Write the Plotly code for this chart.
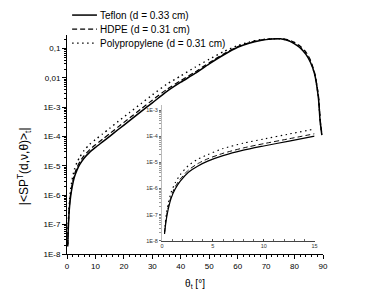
import plotly.graph_objects as go

# ---- data ----
theta = [0.25, 0.4, 0.6, 0.9, 1.3, 1.8, 2.6, 3.5, 4.5, 6, 8, 10, 12.5, 15, 18, 22, 26, 30,
         35, 40, 45, 50, 55, 60, 64, 68, 72, 75, 78, 80, 82, 84, 85.5, 87, 88.4, 89, 89.6]

teflon = [1.8e-8, 5.6e-8, 1.5e-7, 4.2e-7, 9.5e-7, 1.9e-6, 4.2e-6, 7.2e-6, 1.12e-5, 1.82e-5,
          2.95e-5, 4.27e-5, 6.6e-5, 1.02e-4, 1.74e-4, 3.47e-4, 7.1e-4, 1.41e-3,
          3.4e-3, 7.1e-3, 1.41e-2, 3.0e-2, 6.0e-2, 0.11, 0.151, 0.186, 0.209, 0.214,
          0.182, 0.145, 0.105, 0.063, 0.0355, 0.0141, 2.0e-3, 3.2e-4, 1.12e-4]

hdpe = [2.0e-8, 6.6e-8, 1.8e-7, 5.0e-7, 1.17e-6, 2.3e-6, 5.1e-6, 8.9e-6, 1.38e-5, 2.24e-5,
        3.6e-5, 5.25e-5, 8.1e-5, 1.26e-4, 2.14e-4, 4.3e-4, 8.7e-4, 1.74e-3,
        4.0e-3, 8.1e-3, 1.58e-2, 3.3e-2, 6.5e-2, 0.115, 0.158, 0.195, 0.214, 0.219,
        0.195, 0.162, 0.12, 0.076, 0.042, 0.0158, 2.5e-3, 4.0e-4, 1.26e-4]

polypropylene = [2.2e-8, 8.9e-8, 2.5e-7, 7.1e-7, 1.66e-6, 3.4e-6, 7.6e-6, 1.32e-5, 2.0e-5, 3.4e-5,
                 5.5e-5, 7.9e-5, 1.23e-4, 1.91e-4, 3.3e-4, 6.6e-4, 1.32e-3, 2.63e-3,
                 6.0e-3, 1.17e-2, 2.3e-2, 4.3e-2, 7.8e-2, 0.126, 0.165, 0.2, 0.214, 0.214,
                 0.186, 0.151, 0.11, 0.068, 0.038, 0.0141, 2.2e-3, 3.5e-4, 1.2e-4]

series_names = ["Teflon (d = 0.33 cm)", "HDPE (d = 0.31 cm)", "Polypropylene (d = 0.31 cm)"]
series_values = [teflon, hdpe, polypropylene]
series_dash = ["solid", "5px,3px", "1.5px,3.5px"]
series_width = [1.5, 1.2, 1.4]

main_ytick_vals = [1e-8, 1e-7, 1e-6, 1e-5, 1e-4, 1e-3, 1e-2, 1e-1]
main_ytick_text = ["1E-8", "1E-7", "1E-6", "1E-5", "1E-4", "1E-3", "0,01", "0,1"]
inset_ytick_vals = [1e-8, 1e-7, 1e-6, 1e-5, 1e-4, 1e-3]
inset_ytick_text = ["1E-8", "1E-7", "1E-6", "1E-5", "1E-4", "1E-3"]
inset_max_theta = 15

FONT = "Liberation Sans, Arial, sans-serif"

fig = go.Figure()

for name, vals, dash, w in zip(series_names, series_values, series_dash, series_width):
    fig.add_trace(go.Scatter(x=theta, y=vals, mode="lines", name=name,
                             line=dict(color="black", dash=dash, width=w, shape="spline", smoothing=0.6),
                             xaxis="x", yaxis="y", showlegend=False))
    xs = [t for t in theta if t <= inset_max_theta]
    ys = [v for t, v in zip(theta, vals) if t <= inset_max_theta]
    fig.add_trace(go.Scatter(x=xs, y=ys, mode="lines", name=name,
                             line=dict(color="black", dash=dash, width=w * 0.8, shape="spline", smoothing=0.6),
                             xaxis="x2", yaxis="y2", showlegend=False))

# manual legend (compact row spacing)
leg_rows = [1.091, 1.027, 0.963]
shapes = []
annotations = []
for name, dash, w, yy in zip(series_names, series_dash, series_width, leg_rows):
    shapes.append(dict(type="line", xref="paper", yref="paper", x0=0.02, x1=0.117, y0=yy, y1=yy,
                       line=dict(color="black", dash=dash, width=w)))
    annotations.append(dict(text=name, xref="paper", yref="paper", x=0.122, y=yy,
                            xanchor="left", yanchor="middle", showarrow=False,
                            font=dict(size=10, family=FONT, color="black")))

annotations.append(dict(text="|<SP<sup>T</sup>(d,ν,θ)><sub>t</sub>|", xref="paper", yref="paper",
                        x=-0.165, y=0.40, textangle=-90, showarrow=False,
                        xanchor="center", yanchor="middle",
                        font=dict(size=12, family=FONT, color="black")))

fig.update_layout(
    width=366, height=297,
    margin=dict(l=59, r=51, t=27, b=51),
    paper_bgcolor="white", plot_bgcolor="white",
    font=dict(family=FONT, size=8, color="black"),
    shapes=shapes, annotations=annotations,
    xaxis=dict(domain=[0, 1], range=[0, 90], tickvals=[0, 10, 20, 30, 40, 50, 60, 70, 80, 90],
               showline=True, linecolor="black", linewidth=1, ticks="outside", ticklen=4,
               tickcolor="black", showgrid=False, zeroline=False, automargin=False,
               minor=dict(dtick=2, ticks="outside", ticklen=2, tickcolor="black", showgrid=False),
               title=dict(text="θ<sub>t</sub> [°]", font=dict(size=10, family=FONT), standoff=10),
               tickfont=dict(size=8)),
    yaxis=dict(domain=[0, 1], type="log", range=[-8, -0.54], tickvals=main_ytick_vals,
               ticktext=main_ytick_text, showline=True, linecolor="black", linewidth=1,
               ticks="outside", ticklen=4, tickcolor="black", showgrid=False, zeroline=False,
               automargin=False,
               minor=dict(dtick="D1", ticks="outside", ticklen=2, tickcolor="black", showgrid=False),
               tickfont=dict(size=8)),
    xaxis2=dict(domain=[0.371, 0.967], range=[0, 15], anchor="y2", tickvals=[0, 5, 10, 15],
                showline=True, linecolor="#444", linewidth=1, ticks="inside", ticklen=2,
                tickcolor="#444", showgrid=False, zeroline=False, automargin=False,
                minor=dict(dtick=1, ticks="inside", ticklen=1.5, tickcolor="#666", showgrid=False),
                tickfont=dict(size=5.5, color="#333")),
    yaxis2=dict(domain=[0.061, 0.68], type="log", range=[-8, -2.8], anchor="x2",
                tickvals=inset_ytick_vals, ticktext=inset_ytick_text,
                showline=True, linecolor="#bbb", linewidth=1, ticks="outside", ticklen=2,
                tickcolor="#666", showgrid=False, zeroline=False, automargin=False,
                minor=dict(dtick="D1", ticks="outside", ticklen=1.5, tickcolor="#999", showgrid=False),
                tickfont=dict(size=5.5, color="#333")),
)

fig.write_html("out.html")
